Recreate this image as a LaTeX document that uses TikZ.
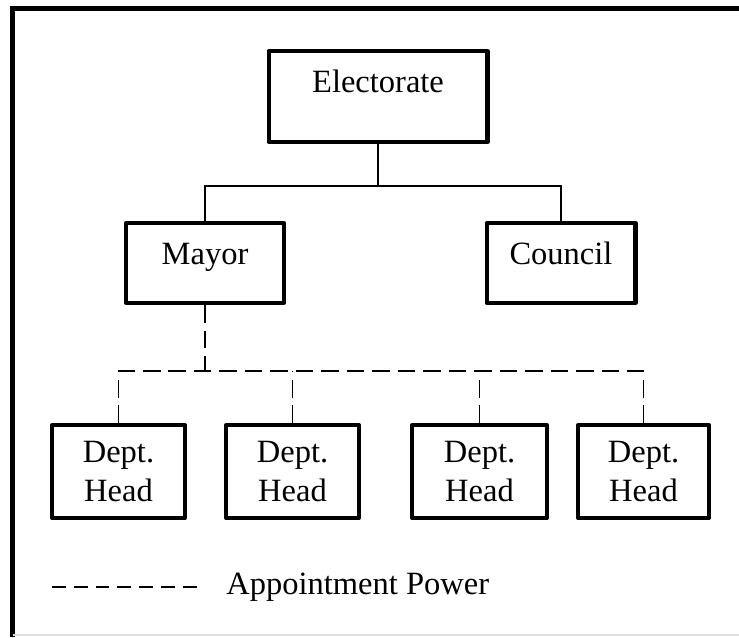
\documentclass[tikz,border=0pt]{standalone}
\usepackage{fontspec}
\setmainfont{Liberation Serif}
\usetikzlibrary{positioning, calc}

\begin{document}
\begin{tikzpicture}[x=0.02cm, y=-0.02cm,
                    font=\fontsize{18.5}{22.5}\selectfont,
                    office/.style={rectangle, draw, line width=2.3pt, line join=round,
                                   inner sep=0pt, align=center},
                    head/.style={office, minimum width=2.66cm, minimum height=1.86cm},
                    link/.style={line width=1.1pt},
                    appoint/.style={line width=1.1pt, dash pattern=on 10pt off 4.5pt}]
    \useasboundingbox (0,0) rectangle (739,637);
    \draw[line width=2.8pt] (12.5,637) -- (12.5,8.5) -- (739,8.5);
    \draw[black!12, line width=0.8pt] (12.5,635) -- (739,635);

    \node (electorate) [office, anchor=north, minimum width=4.38cm,
                        text height=0.82cm, text depth=1.0cm] at (378,49) {Electorate};
    \node (mayor)      [office, anchor=north, minimum width=3.16cm,
                        text height=0.82cm, text depth=0.78cm] at (205,221) {Mayor};
    \node (council)    [office, anchor=north, minimum width=2.98cm,
                        text height=0.82cm, text depth=0.78cm] at (561,221) {Council};

    \node (head1) [head]                       at (118.5,471.5) {Dept.\\Head};
    \node (head2) [head]                       at (292.5,471.5) {Dept.\\Head};
    \node (head3) [head, minimum width=2.7cm]  at (479.5,471.5) {Dept.\\Head};
    \node (head4) [head, minimum width=2.62cm] at (643.5,471.5) {Dept.\\Head};

    \coordinate (split) at (378,186);
    \coordinate (bus)   at (205,371);

    \draw[link] (electorate) -- (split);
    \draw[link] (mayor.north) |- (split) -| (council.north);

    \draw[appoint] (mayor) -- (bus);
    \draw[appoint] (head1.north) |- (bus) -| (head4.north);
    \draw[appoint] (head2.north) -- (head2.north |- bus);
    \draw[appoint] (head3.north) -- (head3.north |- bus);

    \coordinate (keystart) at (52,587);
    \coordinate (keyend)   at (198,587);
    \draw[line width=0.85pt, dash pattern=on 7.9pt off 4.5pt] (keystart) -- (keyend);
    \node (keytext) [inner sep=0pt, right=0.56cm of keyend] {Appointment Power};
\end{tikzpicture}
\end{document}
